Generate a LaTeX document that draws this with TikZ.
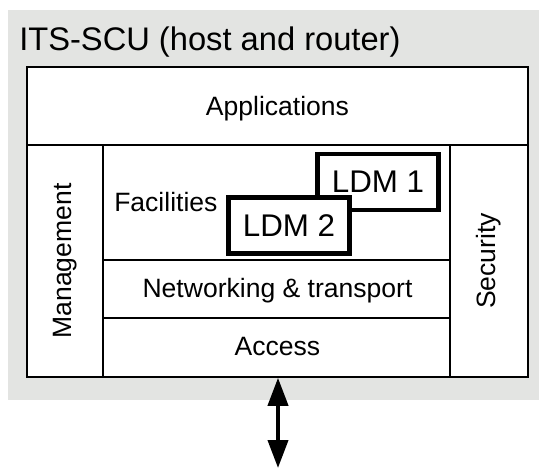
\documentclass[tikz,border=0pt]{standalone}
\usepackage{fontspec}
\setmainfont{Liberation Sans}
\usetikzlibrary{arrows.meta}
\definecolor{bggrey}{RGB}{227,228,226}
\begin{document}
\begin{tikzpicture}[x=0.75pt,y=-0.75pt,
  box/.style 2 args={draw, line width=1.2pt, rectangle, inner sep=0pt, minimum width=#1*0.75pt, minimum height=#2*0.75pt},
  ldm/.style={draw, fill=white, line width=3.7pt, rectangle, inner sep=0pt, minimum width=121*0.75pt, minimum height=56*0.75pt, font=\fontsize{23.5pt}{28pt}\selectfont},
  lbl/.style={inner sep=0pt, anchor=base, font=\fontsize{19.9pt}{24pt}\selectfont},
  vlbl/.style={inner sep=0pt, rotate=90, font=\fontsize{19.9pt}{24pt}\selectfont},
  dblarrow/.style={line width=3pt, {Triangle[length=21pt,width=15pt]}-{Triangle[length=21pt,width=15pt]}}]
\useasboundingbox (0,0) rectangle (539,468);
\fill[bggrey] (8,10) rectangle (539,400);
% boxes
\node[box={501}{310}, fill=white] (scu) at (277.5,222) {};
\node[box={501}{78}] (apps) at (277.5,106) {};
\node[box={76}{232}] (mgmt) at (65,261) {};
\node[box={78}{232}] (sec) at (489,261) {};
\node[box={347}{115}] (fac) at (276.5,202.5) {};
\node[box={347}{58}] (net) at (276.5,289) {};
\node[box={347}{59}] (acc) at (276.5,347.5) {};
\node[ldm] (ldm1) at (378,182) {LDM 1};
\node[ldm] (ldm2) at (289,225.5) {LDM 2};
% labels
\node[lbl, anchor=base west, font=\fontsize{24.5pt}{29pt}\selectfont] (title) at (19,50) {ITS-SCU (host and router)};
\node[lbl] (appst) at (277.5,115) {Applications};
\node[lbl, anchor=base west] (fact) at (114,211) {Facilities};
\node[lbl] (nett) at (277.5,297) {Networking \& transport};
\node[lbl] (acct) at (277.5,355) {Access};
\node[vlbl] (mgmtt) at (mgmt.center) {Management};
\node[vlbl] (sect) at (sec.center) {Security};
% arrow
\coordinate (ext) at (278,468);
\draw[dblarrow] (acc.south -| ext) -- (ext);
\end{tikzpicture}
\end{document}
